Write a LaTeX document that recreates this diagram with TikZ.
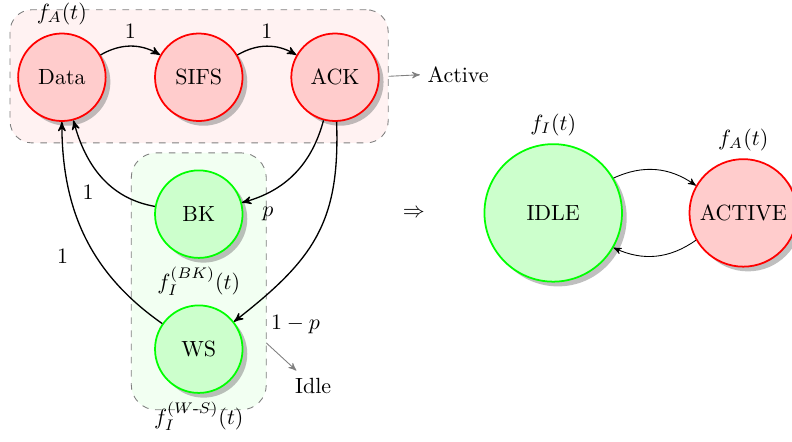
\documentclass[tikz,border=0pt]{standalone}
\usepackage{amsmath}
\usepackage{amssymb}
\usetikzlibrary{shadows,arrows}

\tikzset{
  actstate/.style={circle, draw=red, fill=red!20, thick, drop shadow, minimum size=1.4cm},
  idlestate/.style={circle, draw=green, fill=green!20, thick, drop shadow, minimum size=1.4cm},
  actbox/.style={draw=gray, dashed, fill=red!5, rounded corners=0.35cm},
  idlebox/.style={draw=gray, dashed, fill=green!5, rounded corners=0.4cm},
  trans/.style={->, semithick},
  hint/.style={->, gray},
}

\begin{document}
\begin{tikzpicture}[>=stealth']
\useasboundingbox (0,0) rectangle (12.67,7.056);
% groups
\node[actbox, minimum width=6.05cm, minimum height=2.13cm] (actgrp) at (3.185,5.835) {};
\node[idlebox, minimum width=2.16cm, minimum height=4.11cm] (idlegrp) at (3.18,2.555) {};
% states
\node[actstate, label={above:$f_A(t)$}] (data) at (0.99,5.82) {Data};
\node[actstate] (sifs) at (3.18,5.82) {SIFS};
\node[actstate] (ack) at (5.36,5.82) {ACK};
\node[idlestate, label={below:$f_I^{(BK)}(t)$}] (bk) at (3.18,3.63) {BK};
\node[idlestate, label={below:$f_I^{(W\text{-}S)}(t)$}] (ws) at (3.18,1.47) {WS};
% group names
\node (active) at (7.33,5.86) {Active};
\node (idle) at (5.01,0.88) {Idle};
\coordinate (idlefrom) at (4.26,1.57);
\draw[hint] (actgrp.east) -- (active.west);
\draw[hint] (idlefrom) -- (idle);
% transitions
\draw[trans] (data) to[bend left] node[above] {1} (sifs);
\draw[trans] (sifs) to[bend left] node[above] {1} (ack);
\draw[trans] (ack) to[out=-105, in=15] node[pos=0.9, below right] {$p$} (bk);
\draw[trans] (ack) to[out=-88, in=38, looseness=1.15] node[pos=0.92, below right, xshift=5pt] {$1-p$} (ws);
\draw[trans] (bk) to[out=170, in=-75] node[pos=0.5, below left] {1} (data);
\draw[trans] (ws) to[out=145, in=-90] node[pos=0.4, left=9pt] {1} (data);
% reduced model
\node (implies) at (6.62,3.64) {$\Rightarrow$};
\node[idlestate, minimum size=2.2cm, label={above:$f_I(t)$}] (idlest) at (8.85,3.65) {IDLE};
\node[actstate, minimum size=1.72cm, label={above:$f_A(t)$}] (actst) at (11.89,3.65) {ACTIVE};
\draw[->] (idlest) to[bend left] (actst);
\draw[->] (actst) to[bend left] (idlest);
\end{tikzpicture}
\end{document}
